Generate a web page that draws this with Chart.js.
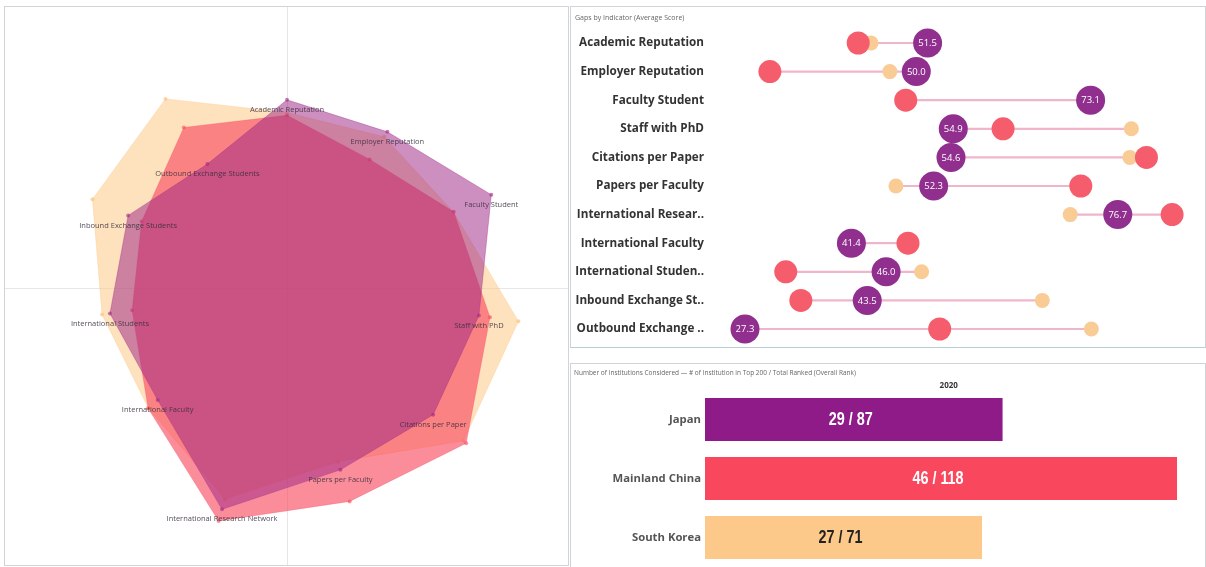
<!DOCTYPE html>
<html>
<head>
<meta charset="utf-8">
<script src="https://cdn.jsdelivr.net/npm/chart.js@4.4.1/dist/chart.umd.min.js"></script>
<style>
    body { margin: 0; background: #fff; width: 1206px; height: 567px; overflow: hidden; position: relative; font-family: "Open Sans", sans-serif; }
    .panel { position: absolute; border: 1px solid #cfd4d8; box-sizing: border-box; }
    canvas { position: absolute; }
    .title { position: absolute; font-size: 7px; color: #666; white-space: nowrap; }
</style>
</head>
<body>
<div class="panel" style="left:4px;top:6px;width:565px;height:560px;"></div>
<div class="panel" style="left:570px;top:6px;width:636px;height:342px;border-bottom-color:#b9cfd6;"></div>
<div class="panel" style="left:570px;top:363px;width:636px;height:205px;"></div>

<canvas id="radarChart" width="563" height="558" style="left:5px;top:7px;"></canvas>
<canvas id="gapChart" width="634" height="340" style="left:571px;top:7px;"></canvas>
<canvas id="countChart" width="634" height="204" style="left:571px;top:363px;"></canvas>

<div class="title" style="left:575px;top:13px;">Gaps by Indicator (Average Score)</div>
<div class="title" style="left:574px;top:368px;font-size:6.5px;">Number of Institutions Considered — # of Institution in Top 200 / Total Ranked (Overall Rank)</div>

<script>
// indicators, clockwise from the top of the radar
const indicators = ['Academic Reputation', 'Employer Reputation', 'Faculty Student', 'Staff with PhD',
    'Citations per Paper', 'Papers per Faculty', 'International Research Network', 'International Faculty',
    'International Students', 'Inbound Exchange Students', 'Outbound Exchange Students'];
const shortLabels = ['Academic Reputation', 'Employer Reputation', 'Faculty Student', 'Staff with PhD',
    'Citations per Paper', 'Papers per Faculty', 'International Resear..', 'International Faculty',
    'International Studen..', 'Inbound Exchange St..', 'Outbound Exchange ..'];

// average scores
const japan = [51.5, 50.0, 73.1, 54.9, 54.6, 52.3, 76.7, 41.4, 46.0, 43.5, 27.3];
const china = [42.3, 30.6, 48.6, 61.5, 80.5, 71.8, 83.9, 48.9, 32.7, 34.7, 53.1];
const korea = [44.0, 46.5, 48.4, 78.5, 78.3, 47.3, 70.4, 48.7, 50.7, 66.7, 73.2];

// institutions
const countries = ['Japan', 'Mainland China', 'South Korea'];
const top200 = [29, 46, 27];
const totalRanked = [87, 118, 71];
const rankYear = '2020';

const PURPLE = '#8e1b87';
const RED = '#f9475e';
const ORANGE = '#fdc98a';

// category axis: fixed width, no extra label padding
function fixAxis(s) {
    s.width = 134;
    s.paddingTop = 0;
    s.paddingBottom = 0;
}

document.addEventListener("DOMContentLoaded", function() {

    // Radar: crosshair + labels sitting on the Japan polygon
    const crosshair = {
        id: 'crosshair',
        beforeDatasetsDraw(chart) {
            const s = chart.scales.r;
            const ctx = chart.ctx;
            ctx.save();
            ctx.strokeStyle = '#e6e6e6';
            ctx.lineWidth = 1;
            ctx.beginPath();
            ctx.moveTo(0, s.yCenter + 0.5);
            ctx.lineTo(chart.width, s.yCenter + 0.5);
            ctx.moveTo(s.xCenter + 0.5, 0);
            ctx.lineTo(s.xCenter + 0.5, chart.height);
            ctx.stroke();
            ctx.restore();
        }
    };
    const radarLabels = {
        id: 'radarLabels',
        afterDatasetsDraw(chart) {
            const s = chart.scales.r;
            const ctx = chart.ctx;
            ctx.save();
            ctx.font = '7.5px "Open Sans"';
            ctx.fillStyle = 'rgba(55,45,60,0.85)';
            ctx.textAlign = 'center';
            ctx.textBaseline = 'middle';
            indicators.forEach(function(name, i) {
                const p = s.getPointPositionForValue(i, japan[i]);
                ctx.fillText(name, p.x, p.y + 10);
            });
            ctx.restore();
        }
    };

    new Chart(document.getElementById('radarChart'), {
        type: 'radar',
        data: {
            labels: indicators,
            datasets: [
                { label: 'Japan', data: japan, backgroundColor: 'rgba(160,40,135,0.52)', borderColor: 'rgba(160,40,135,0.35)', borderWidth: 1, pointRadius: 2, pointBackgroundColor: 'rgba(160,40,135,0.6)', pointBorderWidth: 0 },
                { label: 'Mainland China', data: china, backgroundColor: 'rgba(249,71,94,0.62)', borderColor: 'rgba(249,71,94,0.3)', borderWidth: 1, pointRadius: 2, pointBackgroundColor: 'rgba(249,71,94,0.6)', pointBorderWidth: 0 },
                { label: 'South Korea', data: korea, backgroundColor: 'rgba(253,201,138,0.56)', borderColor: 'rgba(253,201,138,0.4)', borderWidth: 1, pointRadius: 2, pointBackgroundColor: 'rgba(253,201,138,0.8)', pointBorderWidth: 0 }
            ]
        },
        options: {
            responsive: false,
            animation: false,
            layout: { autoPadding: false, padding: { left: 12, right: 11, top: 11, bottom: 7 } },
            plugins: { legend: { display: false }, tooltip: { enabled: false } },
            scales: {
                r: {
                    min: -60,
                    max: 100,
                    ticks: { display: false },
                    grid: { display: false },
                    angleLines: { display: false },
                    pointLabels: { display: false }
                }
            }
        },
        plugins: [crosshair, radarLabels]
    });

    // Lollipop gaps
    const ranges = indicators.map(function(_, i) {
        return [Math.min(japan[i], china[i], korea[i]), Math.max(japan[i], china[i], korea[i])];
    });
    const dotLabels = {
        id: 'dotLabels',
        afterDatasetsDraw(chart) {
            const ctx = chart.ctx;
            const meta = chart.getDatasetMeta(0);
            ctx.save();
            ctx.font = '9.5px "Open Sans"';
            ctx.fillStyle = '#fff';
            ctx.textAlign = 'center';
            ctx.textBaseline = 'middle';
            meta.data.forEach(function(pt, i) {
                ctx.fillText(japan[i].toFixed(1), pt.x, pt.y + 0.5);
            });
            ctx.restore();
        }
    };

    new Chart(document.getElementById('gapChart'), {
        type: 'bar',
        data: {
            labels: shortLabels,
            datasets: [
                { type: 'line', indexAxis: 'y', data: japan, showLine: false, pointRadius: 14.5, pointBackgroundColor: '#902f8e', pointBorderWidth: 0, clip: false },
                { type: 'line', indexAxis: 'y', data: china, showLine: false, pointRadius: 11.5, pointBackgroundColor: '#f65d6c', pointBorderWidth: 0, clip: false },
                { type: 'line', indexAxis: 'y', data: korea, showLine: false, pointRadius: 7.5, pointBackgroundColor: '#f9cb95', pointBorderWidth: 0, clip: false },
                { type: 'bar', data: ranges, backgroundColor: '#efb6cb', barThickness: 1.5 }
            ]
        },
        options: {
            indexAxis: 'y',
            responsive: false,
            animation: false,
            layout: { autoPadding: false, padding: { top: 21.7, bottom: 3.7, right: 9.5, left: 0 } },
            plugins: { legend: { display: false }, tooltip: { enabled: false } },
            scales: {
                x: { min: 22, max: 87, display: false },
                y: {
                    grid: { display: false, drawTicks: false },
                    border: { display: false },
                    ticks: { color: '#333', padding: 1, font: { family: 'Open Sans', size: 11.7, weight: 'bold' } },
                    afterFit: fixAxis
                }
            }
        },
        plugins: [dotLabels]
    });

    // Institutions bar
    const barLabels = {
        id: 'barLabels',
        afterDatasetsDraw(chart) {
            const ctx = chart.ctx;
            const meta = chart.getDatasetMeta(0);
            ctx.save();
            ctx.textAlign = 'center';
            ctx.textBaseline = 'middle';
            ctx.font = 'bold 18px "Liberation Sans", sans-serif';
            meta.data.forEach(function(bar, i) {
                ctx.save();
                ctx.translate((bar.x + bar.base) / 2 - 3, bar.y + 1);
                ctx.scale(0.8, 1);
                ctx.fillStyle = i === 2 ? '#222' : '#fff';
                ctx.fillText(top200[i] + ' / ' + totalRanked[i], 0, 0);
                ctx.restore();
            });
            const area = chart.chartArea;
            ctx.font = 'bold 8px "Open Sans"';
            ctx.fillStyle = '#333';
            ctx.fillText(rankYear, (area.left + area.right) / 2, 23);
            ctx.restore();
        }
    };

    new Chart(document.getElementById('countChart'), {
        type: 'bar',
        data: {
            labels: countries,
            datasets: [{ data: top200, backgroundColor: [PURPLE, RED, ORANGE], barPercentage: 0.73, categoryPercentage: 1 }]
        },
        options: {
            indexAxis: 'y',
            responsive: false,
            animation: false,
            layout: { padding: { top: 27, right: 12.6, bottom: 0, left: 0 } },
            plugins: { legend: { display: false }, tooltip: { enabled: false } },
            scales: {
                x: { min: 0, max: 47.5, display: false },
                y: {
                    grid: { display: false, drawTicks: false },
                    border: { display: false },
                    ticks: { color: '#555', padding: 4, font: { family: 'Open Sans', size: 11.3, weight: 'bold' } },
                    afterFit: fixAxis
                }
            }
        },
        plugins: [barLabels]
    });
});
</script>
</body>
</html>
